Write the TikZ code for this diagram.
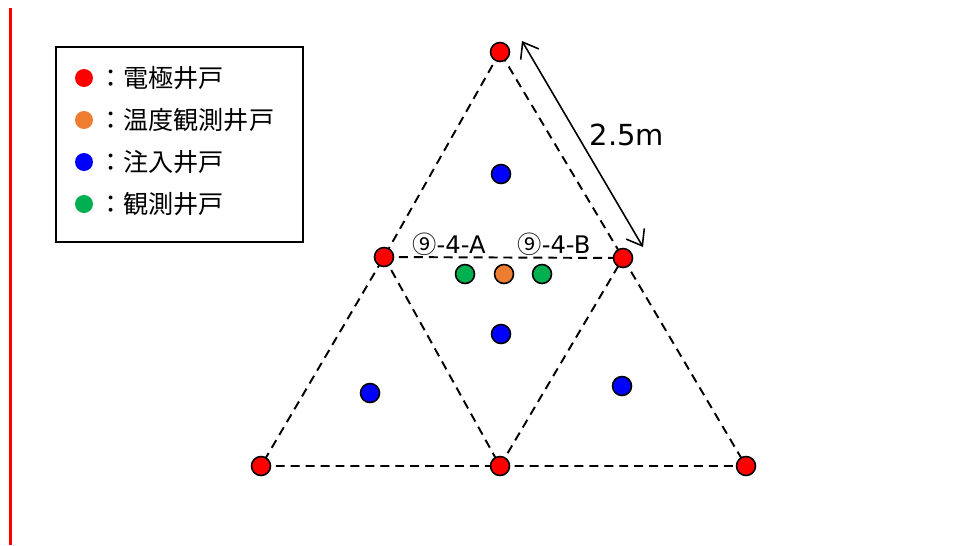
\documentclass[tikz,border=0pt]{standalone}
\usepackage{fontspec}
\setmainfont{DejaVu Sans}
\newfontfamily\jpfont{Noto Sans CJK JP}
\usetikzlibrary{arrows.meta,positioning}

\definecolor{wellred}{HTML}{FF0000}
\definecolor{wellorange}{HTML}{ED7D31}
\definecolor{wellblue}{HTML}{0000FF}
\definecolor{wellgreen}{HTML}{00B050}

\begin{document}
\begin{tikzpicture}[
    x=0.02cm, y=-0.02cm,
    well/.style={circle, draw=black, line width=0.9pt, minimum size=0.38cm, inner sep=0pt},
    keydot/.style={circle, minimum size=0.36cm, inner sep=0pt},
    keytext/.style={anchor=west, inner sep=0pt, font=\jpfont\fontsize{14.3}{16}\selectfont},
    dline/.style={line width=1.1pt, dash pattern=on 5.1pt off 3.4pt},
    arrow/.style={line width=0.9pt, {Straight Barb[length=8pt,width=12pt]}-{Straight Barb[length=8pt,width=12pt]}},
    tag/.style={font=\fontsize{13.8}{15}\selectfont, inner sep=0pt}
]
    \useasboundingbox (0,0) rectangle (980,545);
    \fill[wellred] (9,8) rectangle (12,545);

    % legend
    \node (legend) [draw, line width=0.9pt, minimum width=247*0.02cm, minimum height=195*0.02cm, anchor=north west] at (55,46) {};
    \node (k1) [keydot, fill=wellred] at (84,78) {};
    \node (k2) [keydot, fill=wellorange] at (84,120) {};
    \node (k3) [keydot, fill=wellblue] at (84,162) {};
    \node (k4) [keydot, fill=wellgreen] at (84,204) {};
    \node [keytext] at (98,78) {：電極井戸};
    \node [keytext] at (98,120) {：温度観測井戸};
    \node [keytext] at (98,162) {：注入井戸};
    \node [keytext] at (98,204) {：観測井戸};

    % electrode wells
    \coordinate (t) at (500,52);
    \coordinate (ml) at (384,257);
    \coordinate (mr) at (623,258);
    \coordinate (bl) at (261,466);
    \coordinate (bm) at (500,466);
    \coordinate (br) at (746,466);

    \draw [dline] (t) -- (ml) -- (bl) -- (bm) -- (br) -- (mr) -- (t);
    \draw [dline] (ml) -- (mr);
    \draw [dline] (ml) -- (bm) -- (mr);

    \node (e1) [well, fill=wellred] at (t) {};
    \node (e2) [well, fill=wellred] at (ml) {};
    \node (e3) [well, fill=wellred] at (mr) {};
    \node (e4) [well, fill=wellred] at (bl) {};
    \node (e5) [well, fill=wellred] at (bm) {};
    \node (e6) [well, fill=wellred] at (br) {};

    % injection wells
    \node (i1) [well, fill=wellblue] at (501,174) {};
    \node (i2) [well, fill=wellblue] at (501,334) {};
    \node (i3) [well, fill=wellblue] at (370,393) {};
    \node (i4) [well, fill=wellblue] at (622,386) {};

    % observation wells
    \node (oa) [well, fill=wellgreen] at (465,274) {};
    \node (ot) [well, fill=wellorange] at (504,274) {};
    \node (ob) [well, fill=wellgreen] at (542,274) {};

    \node (la) [tag] at (449,244) {{\jpfont ⑨}-4-A};
    \node (lb) [tag] at (554,244) {{\jpfont ⑨}-4-B};

    % spacing
    \coordinate (s1) at (522,41);
    \coordinate (s2) at (643,247);
    \draw [arrow] (s1) -- (s2);
    \node (dist) [font=\fontsize{16.5}{18}\selectfont, inner sep=0pt] at (627,135) {2.5m};
\end{tikzpicture}
\end{document}
